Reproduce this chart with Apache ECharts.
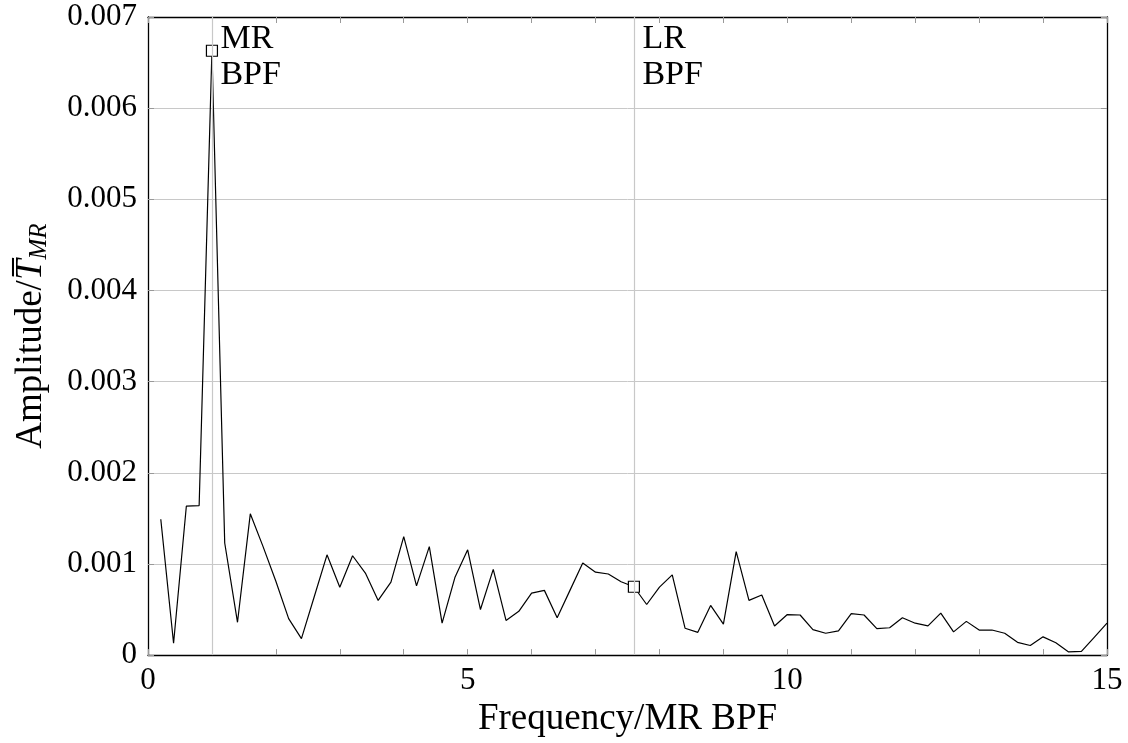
<!DOCTYPE html>
<html>
<head>
<meta charset="utf-8">
<script src="https://cdn.jsdelivr.net/npm/echarts@6/dist/echarts.min.js"></script>
<style>
  html, body { margin: 0; padding: 0; background: #fff; }
  #chart { width: 1128px; height: 743px; }
</style>
</head>
<body>
<div id="chart"></div>
<script>
// Spectrum sample frequencies (normalised by MR blade-passing frequency)
const freq = [
  0.2, 0.4, 0.6, 0.8, 1.0, 1.2, 1.4, 1.6, 1.8, 2.0,
  2.2, 2.4, 2.6, 2.8, 3.0, 3.2, 3.4, 3.6, 3.8, 4.0,
  4.2, 4.4, 4.6, 4.8, 5.0, 5.2, 5.4, 5.6, 5.8, 6.0,
  6.2, 6.4, 6.6, 6.8, 7.0, 7.2, 7.4, 7.6, 7.8, 8.0,
  8.2, 8.4, 8.6, 8.8, 9.0, 9.2, 9.4, 9.6, 9.8, 10.0,
  10.2, 10.4, 10.6, 10.8, 11.0, 11.2, 11.4, 11.6, 11.8, 12.0,
  12.2, 12.4, 12.6, 12.8, 13.0, 13.2, 13.4, 13.6, 13.8, 14.0,
  14.2, 14.4, 14.6, 14.8, 15.0
];

// Normalised amplitude at each frequency
const amplitude = [
  0.00149, 0.00013, 0.001635, 0.00164, 0.00663, 0.00123, 0.00036, 0.00155, 0.00119, 0.00081,
  0.00040, 0.00018, 0.00064, 0.00110, 0.000745, 0.00109, 0.00090, 0.00060, 0.00080, 0.00130,
  0.00076, 0.00119, 0.00035, 0.00085, 0.001155, 0.00050, 0.00094, 0.00038, 0.00048, 0.00068,
  0.00071, 0.00041, 0.00071, 0.00101, 0.00091, 0.00089, 0.000805, 0.00075, 0.000555, 0.000745,
  0.00088, 0.000295, 0.00025, 0.000545, 0.00034, 0.001135, 0.00060, 0.00066, 0.00032, 0.000445,
  0.00044, 0.00028, 0.00024, 0.000265, 0.000455, 0.00044, 0.00029, 0.00030, 0.00041, 0.00035,
  0.00032, 0.00046, 0.000255, 0.00037, 0.000275, 0.000275, 0.00024, 0.00014, 0.000105, 0.00020,
  0.000135, 0.000035, 0.00004, 0.000195, 0.00035
];

// Blade-passing frequencies marked on the plot
const bpfFreq = [1.0, 7.6];
const bpfLabel = ['MR\nBPF', 'LR\nBPF'];

// Axis ranges and tick labels
const xRange = [0, 15];
const xLabelled = [0, 5, 10, 15];
const yRange = [0, 0.007];
const yStep = 0.001;

const FONT = 'Liberation Serif';
const lineData = freq.map((f, i) => [f, amplitude[i]]);
const bpfPoints = bpfFreq.map(f => [f, amplitude[freq.indexOf(f)]]);
const bpfTextAnchors = bpfFreq.map((f, i) => ({ value: [f, yRange[1]], label: { formatter: bpfLabel[i] } }));

const chart = echarts.init(document.getElementById('chart'), null, { renderer: 'canvas' });

const tickStyle = { show: true, inside: true, length: 6, lineStyle: { color: '#999', width: 1 } };

chart.setOption({
  animation: false,
  backgroundColor: '#fff',
  grid: { left: 148, right: 21, top: 17, bottom: 85, containLabel: false },
  xAxis: [
    {
      type: 'value', min: xRange[0], max: xRange[1], interval: 1, position: 'bottom',
      name: 'Frequency/MR BPF', nameLocation: 'middle', nameGap: 41,
      nameTextStyle: { fontFamily: FONT, fontSize: 37, color: '#000' },
      axisLine: { show: true, onZero: false, lineStyle: { color: '#000', width: 1.3 } },
      axisTick: tickStyle,
      axisLabel: {
        margin: 10, fontFamily: FONT, fontSize: 31, color: '#000',
        formatter: v => (xLabelled.indexOf(v) >= 0 ? String(v) : '')
      },
      splitLine: { show: false }
    },
    {
      type: 'value', min: xRange[0], max: xRange[1], interval: 1, position: 'top',
      axisLine: { show: true, onZero: false, lineStyle: { color: '#000', width: 1.3 } },
      axisTick: tickStyle, axisLabel: { show: false }, splitLine: { show: false }
    }
  ],
  yAxis: [
    {
      type: 'value', min: yRange[0], max: yRange[1], interval: yStep, position: 'left',
      name: '{n|Amplitude/}{t|T\u0305}{s|MR}', nameLocation: 'middle', nameGap: 96, nameRotate: 90,
      nameTextStyle: {
        fontFamily: FONT, fontSize: 37, color: '#000',
        rich: {
          n: { fontFamily: FONT, fontSize: 37, color: '#000', lineHeight: 42 },
          t: { fontFamily: FONT, fontSize: 37, fontStyle: 'italic', color: '#000', lineHeight: 42 },
          s: { fontFamily: FONT, fontSize: 25, fontStyle: 'italic', color: '#000', verticalAlign: 'bottom', lineHeight: 42, padding: [11, 0, 0, 0] }
        }
      },
      axisLine: { show: true, onZero: false, lineStyle: { color: '#000', width: 1.3 } },
      axisTick: tickStyle,
      axisLabel: {
        margin: 11, fontFamily: FONT, fontSize: 31, color: '#000',
        formatter: v => (v === 0 ? '0' : v.toFixed(3))
      },
      splitLine: { show: true, lineStyle: { color: '#c8c8c8', width: 1 } }
    },
    {
      type: 'value', min: yRange[0], max: yRange[1], interval: yStep, position: 'right',
      axisLine: { show: true, onZero: false, lineStyle: { color: '#000', width: 1.3 } },
      axisTick: tickStyle, axisLabel: { show: false }, splitLine: { show: false }
    }
  ],
  series: [
    {
      // Vertical reference lines at the blade-passing frequencies
      type: 'line', data: [], silent: true,
      markLine: {
        symbol: 'none', silent: true, animation: false,
        label: { show: false },
        lineStyle: { color: '#c8c8c8', width: 1.2, type: 'solid' },
        data: bpfFreq.map(f => ({ xAxis: f }))
      }
    },
    {
      name: 'spectrum', type: 'line', data: lineData, symbol: 'none',
      lineStyle: { color: '#000', width: 1.2 }, z: 3
    },
    {
      // Square markers at the BPF amplitudes
      type: 'scatter', data: bpfPoints, symbol: 'rect', symbolSize: 11,
      itemStyle: { color: '#fff', borderColor: '#000', borderWidth: 1.2, opacity: 1 }, z: 4
    },
    {
      // BPF text annotations near the top of the plot
      type: 'scatter', data: bpfTextAnchors, symbolSize: 1,
      itemStyle: { color: 'rgba(0,0,0,0)', opacity: 1 },
      label: {
        show: true, position: [9, 5], align: 'left', verticalAlign: 'top',
        fontFamily: FONT, fontSize: 34, lineHeight: 36, color: '#000'
      }, z: 5
    }
  ]
});
</script>
</body>
</html>
